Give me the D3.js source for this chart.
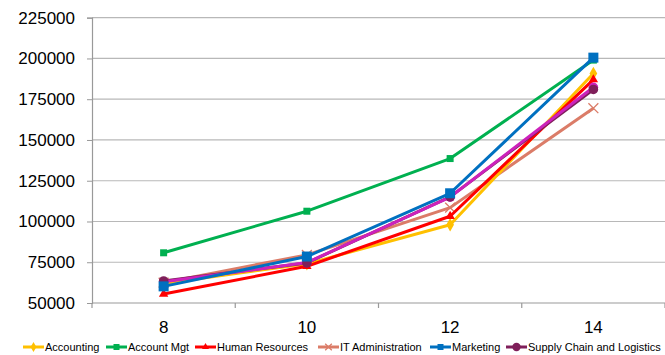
<!DOCTYPE html>
<html>
<head>
<meta charset="utf-8">
<script src="https://cdn.jsdelivr.net/npm/d3@7/dist/d3.min.js"></script>
<style>
  html, body { margin: 0; padding: 0; background: #fff; }
  svg { display: block; font-family: "Liberation Sans", Arial, sans-serif; }
</style>
</head>
<body>
<svg id="chart" width="665" height="355"></svg>
<script>
(function () {
const categories = ["8", "10", "12", "14"];
const yTicks = [50000, 75000, 100000, 125000, 150000, 175000, 200000, 225000];

const seriesNames = ["Accounting", "Account Mgt", "Human Resources", "IT Administration", "Marketing", "Supply Chain and Logistics", "Sales"];
const accounting      = [62000, 74000, 98000, 190800];
const accountMgt      = [80800, 106300, 138600, 199000];
const humanResources  = [55500, 72500, 103200, 187000];
const itAdministration= [62500, 79500, 108500, 169500];
const marketing       = [60200, 78500, 117300, 200500];
const supplyChain     = [63500, 74600, 115100, 181000];
const sales           = [63000, 74800, 115000, 182300];

const seriesValues = [accounting, accountMgt, humanResources, itAdministration, marketing, supplyChain, sales];
const colors  = ["#FFC000", "#00B050", "#FF0000", "#DB7C68", "#0070C0", "#7F1F5A", "#CC22BB"];
const markers = ["diamond", "square", "triangle", "x", "square", "circle", "circle"];
const markerSizes = [8, 7, 8, 9, 10, 8, 8];
const legendCount = 6;

const svg = d3.select("#chart");
const mLeft = 92, mRight = 665, mTop = 17.7, mBottom = 303;

const x = d3.scalePoint().domain(categories).range([mLeft, mRight]).padding(0.5);
const xBand = d3.scaleBand().domain(categories).range([mLeft, mRight]);
const y = d3.scaleLinear().domain([50000, 225000]).range([mBottom, mTop]);

// gridlines
svg.append("g").selectAll("line").data(yTicks.slice(1)).join("line")
  .attr("x1", mLeft).attr("x2", mRight)
  .attr("y1", d => y(d)).attr("y2", d => y(d))
  .attr("stroke", "#b8b8b8").attr("stroke-width", 1.2);

// y axis
const yAxis = svg.append("g").attr("transform", `translate(${mLeft},0)`)
  .call(d3.axisLeft(y).tickValues(yTicks).tickFormat(d3.format("d")).tickSize(5).tickPadding(12));
yAxis.select(".domain").attr("stroke", "#999").attr("stroke-width", 1.2);
yAxis.selectAll(".tick line").attr("stroke", "#999");
yAxis.selectAll("text").attr("font-size", 17).attr("fill", "#000")
  .attr("font-family", "Liberation Sans, Arial, sans-serif");

// x axis
const xAxisG = svg.append("g").attr("transform", `translate(0,${mBottom})`);
xAxisG.append("line").attr("x1", mLeft).attr("x2", mRight).attr("y1", 0).attr("y2", 0)
  .attr("stroke", "#999").attr("stroke-width", 1.2);
const boundaries = categories.map(c => xBand(c)).concat([mRight]);
xAxisG.selectAll("line.tk").data(boundaries).join("line").attr("class", "tk")
  .attr("x1", d => d).attr("x2", d => d).attr("y1", 0).attr("y2", 5)
  .attr("stroke", "#999").attr("stroke-width", 1.2);
xAxisG.selectAll("text").data(categories).join("text")
  .attr("x", d => x(d)).attr("y", 30)
  .attr("text-anchor", "middle").attr("font-size", 17).attr("fill", "#000")
  .text(d => d);

function drawMarker(g, type, color, size) {
  if (type === "circle") {
    g.append("circle").attr("r", size * 0.6).attr("fill", color);
  } else if (type === "square") {
    g.append("rect").attr("x", -size/2).attr("y", -size/2).attr("width", size).attr("height", size).attr("fill", color);
  } else if (type === "diamond") {
    g.append("path").attr("d", d3.symbol(d3.symbolDiamond, size * size * 0.8)()).attr("fill", color);
  } else if (type === "triangle") {
    g.append("path").attr("d", d3.symbol(d3.symbolTriangle, size * size * 0.6)()).attr("fill", color);
  } else if (type === "x") {
    const s = size * 0.55;
    g.append("path").attr("d", `M${-s},${-s}L${s},${s}M${-s},${s}L${s},${-s}`)
      .attr("stroke", color).attr("stroke-width", 1.3).attr("fill", "none");
  }
}

const line = d3.line().x((d, i) => x(categories[i])).y(d => y(d));

function drawSeries(si, withLine, withMarkers) {
  const g = svg.append("g");
  if (withLine) {
    g.append("path").datum(seriesValues[si]).attr("d", line)
      .attr("fill", "none").attr("stroke", colors[si]).attr("stroke-width", 3)
      .attr("stroke-linejoin", "round");
  }
  if (withMarkers) {
    seriesValues[si].forEach((v, i) => {
      const mg = g.append("g").attr("transform", `translate(${x(categories[i])},${y(v)})`);
      drawMarker(mg, markers[si], colors[si], markerSizes[si]);
    });
  }
}

// lower series
[3, 0, 1, 2].forEach(si => drawSeries(si, true, true));
// purple & magenta: lines, then markers (purple markers on top)
drawSeries(5, true, false);
drawSeries(6, true, true);
drawSeries(5, false, true);
// marketing on top
drawSeries(4, true, true);

// legend
const legendY = 347;
const legendStarts = [23, 106, 195, 318, 430, 506];
for (let i = 0; i < legendCount; i++) {
  const lg = svg.append("g").attr("transform", `translate(${legendStarts[i]},${legendY})`);
  lg.append("line").attr("x1", 0).attr("x2", 21).attr("y1", 0).attr("y2", 0)
    .attr("stroke", colors[i]).attr("stroke-width", 3);
  const mg = lg.append("g").attr("transform", "translate(10.5,0)");
  drawMarker(mg, markers[i], colors[i], markers[i] === "circle" ? 7 : 6);
  lg.append("text").attr("x", 22).attr("y", 4).attr("font-size", 11).attr("fill", "#000")
    .text(seriesNames[i]);
}
})();
</script>
</body>
</html>
